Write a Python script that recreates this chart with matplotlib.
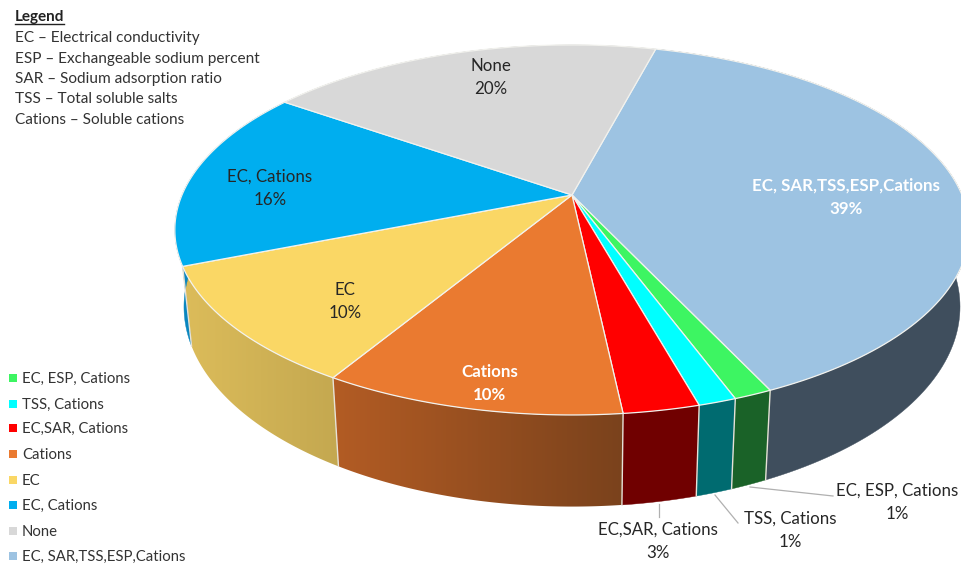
"""Soil test combinations shown as a tilted 3D pie."""

import matplotlib

matplotlib.use("Agg")
import matplotlib.pyplot as plt
import numpy as np
from matplotlib.colors import LinearSegmentedColormap

plt.rcParams["font.family"] = ["Lato", "DejaVu Sans"]

# clockwise from the seam at the top, shares
categories = [
    "EC, SAR,TSS,ESP,Cations",
    "EC, ESP, Cations",
    "TSS, Cations",
    "EC,SAR, Cations",
    "Cations",
    "EC",
    "EC, Cations",
    "None",
]
values = [39.0, 1.32, 1.3, 2.6, 10.28, 10.35, 15.85, 19.3]
shown_pct = ["39%", "1%", "1%", "3%", "10%", "10%", "16%", "20%"]

top_colors = ["#9dc3e2", "#3df562", "#00ffff", "#ff0000", "#ea7a30", "#fad765", "#00aeef", "#d8d8d8"]
wall_left = ["#3f4e5d", "#1a6228", "#006b70", "#700000", "#b35c24", "#dcbc5a", "#0a86bf", "#a0a0a0"]
wall_right = ["#3f4e5d", "#1a6228", "#006b70", "#700000", "#7a421c", "#c4a850", "#0a86bf", "#a0a0a0"]

legend_order = [1, 2, 3, 4, 5, 6, 7, 0]
legend_y = [379, 405, 429, 455, 481, 506, 532, 557]

notes = [
    "EC – Electrical conductivity",
    "ESP – Exchangeable sodium percent",
    "SAR – Sodium adsorption ratio",
    "TSS – Total soluble salts",
    "Cations – Soluble cations",
]
note_y = [38, 59, 79, 99, 120]

# label centre per slice: x, y of name line, y of percent line, colour, weight
label_pos = [
    (846, 186, 209, "white", "bold"),
    (897, 491, 514, "#262626", "normal"),
    (790, 519, 542, "#262626", "normal"),
    (658, 530, 553, "#262626", "normal"),
    (490, 372, 395, "white", "bold"),
    (345, 290, 313, "#262626", "normal"),
    (270, 177, 200, "#262626", "normal"),
    (491, 66, 89, "#262626", "normal"),
]
leaders = [
    ((750, 833), (487, 496)),
    ((715, 738), (495, 523)),
    ((659, 659), (504, 517)),
]

START_DEG = 14.7
APEX_X, APEX_Y = 572, 195
SCALE_X, SCALE_Y = 390, 178.4
PERSP = 0.189


def top_xy(deg):
    """Map clockwise-from-top angles on the disc to picture coordinates."""
    rad = np.radians(deg)
    u, v = np.sin(rad), np.cos(rad)
    w = 1 + PERSP * v
    return APEX_X + SCALE_X * u / w, APEX_Y - SCALE_Y * v / w


def bottom_xy(x, y):
    return APEX_X + 0.977 * (x - APEX_X), 269 + 1.08 * (y - APEX_Y)


fig = plt.figure(figsize=(9.62, 5.64), dpi=100)
ax = fig.add_axes([0, 0, 1, 1])

edges = START_DEG + np.concatenate([[0], np.cumsum(values)]) * 3.6

for i in range(len(values)):
    deg = np.linspace(edges[i], edges[i + 1], 120)
    x, y = top_xy(deg)
    bx, by = bottom_xy(x, y)
    wall_x = np.r_[x, bx[::-1]]
    wall_y = np.r_[y, by[::-1]]
    if wall_left[i] == wall_right[i]:
        ax.fill(wall_x, wall_y, facecolor=wall_left[i], edgecolor=wall_left[i], lw=0.3, zorder=2)
        continue
    # gradient runs left to right across the wall
    cmap = LinearSegmentedColormap.from_list("wall", [wall_left[i], wall_right[i]])
    patch = ax.fill(wall_x, wall_y, facecolor="none", edgecolor="none", zorder=2)[0]
    im = ax.imshow(
        np.linspace(0, 1, 128).reshape(1, -1),
        cmap=cmap,
        aspect="auto",
        extent=(wall_x.min(), wall_x.max(), wall_y.max(), wall_y.min()),
        zorder=2,
    )
    im.set_clip_path(patch)

# seams between the walls, front side only
for e in edges:
    d = e % 360
    if 100 < d < 250:
        x0, y0 = top_xy(np.array([e]))
        x1, y1 = bottom_xy(x0, y0)
        ax.plot([x0[0], x1[0]], [y0[0], y1[0]], color="#e6e2d8", lw=1.0, zorder=3)

for i in range(len(values)):
    deg = np.linspace(edges[i], edges[i + 1], 120)
    x, y = top_xy(deg)
    ax.fill(
        np.r_[APEX_X, x], np.r_[APEX_Y, y],
        facecolor=top_colors[i], edgecolor="#f2f2ee", linewidth=0.9, zorder=4,
    )

for i, (lx, y1, y2, col, weight) in enumerate(label_pos):
    ax.text(lx, y1, categories[i], ha="center", va="center", fontsize=12.2, color=col, weight=weight, zorder=6)
    ax.text(lx, y2, shown_pct[i], ha="center", va="center", fontsize=12.2, color=col, weight=weight, zorder=6)

for xs, ys in leaders:
    ax.plot(xs, ys, color="#b0b0b0", lw=0.9, zorder=1)

for idx, ly in zip(legend_order, legend_y):
    ax.scatter([13], [ly - 1], marker="s", s=32, color=top_colors[idx], linewidths=0, zorder=5)
    ax.text(22, ly, categories[idx], ha="left", va="center", fontsize=10.75, color="#333333", zorder=6)

ax.text(15, 17, "Legend", ha="left", va="center", fontsize=11, weight="bold", color="#222222")
ax.plot([15, 64], [24, 24], color="#222222", lw=1.0)
for line, ny in zip(notes, note_y):
    ax.text(15, ny, line, ha="left", va="center", fontsize=11.1, color="#333333")

ax.set_xlim(0, 962)
ax.set_ylim(564, 0)
ax.axis("off")

fig.savefig("out.png", dpi=100)
